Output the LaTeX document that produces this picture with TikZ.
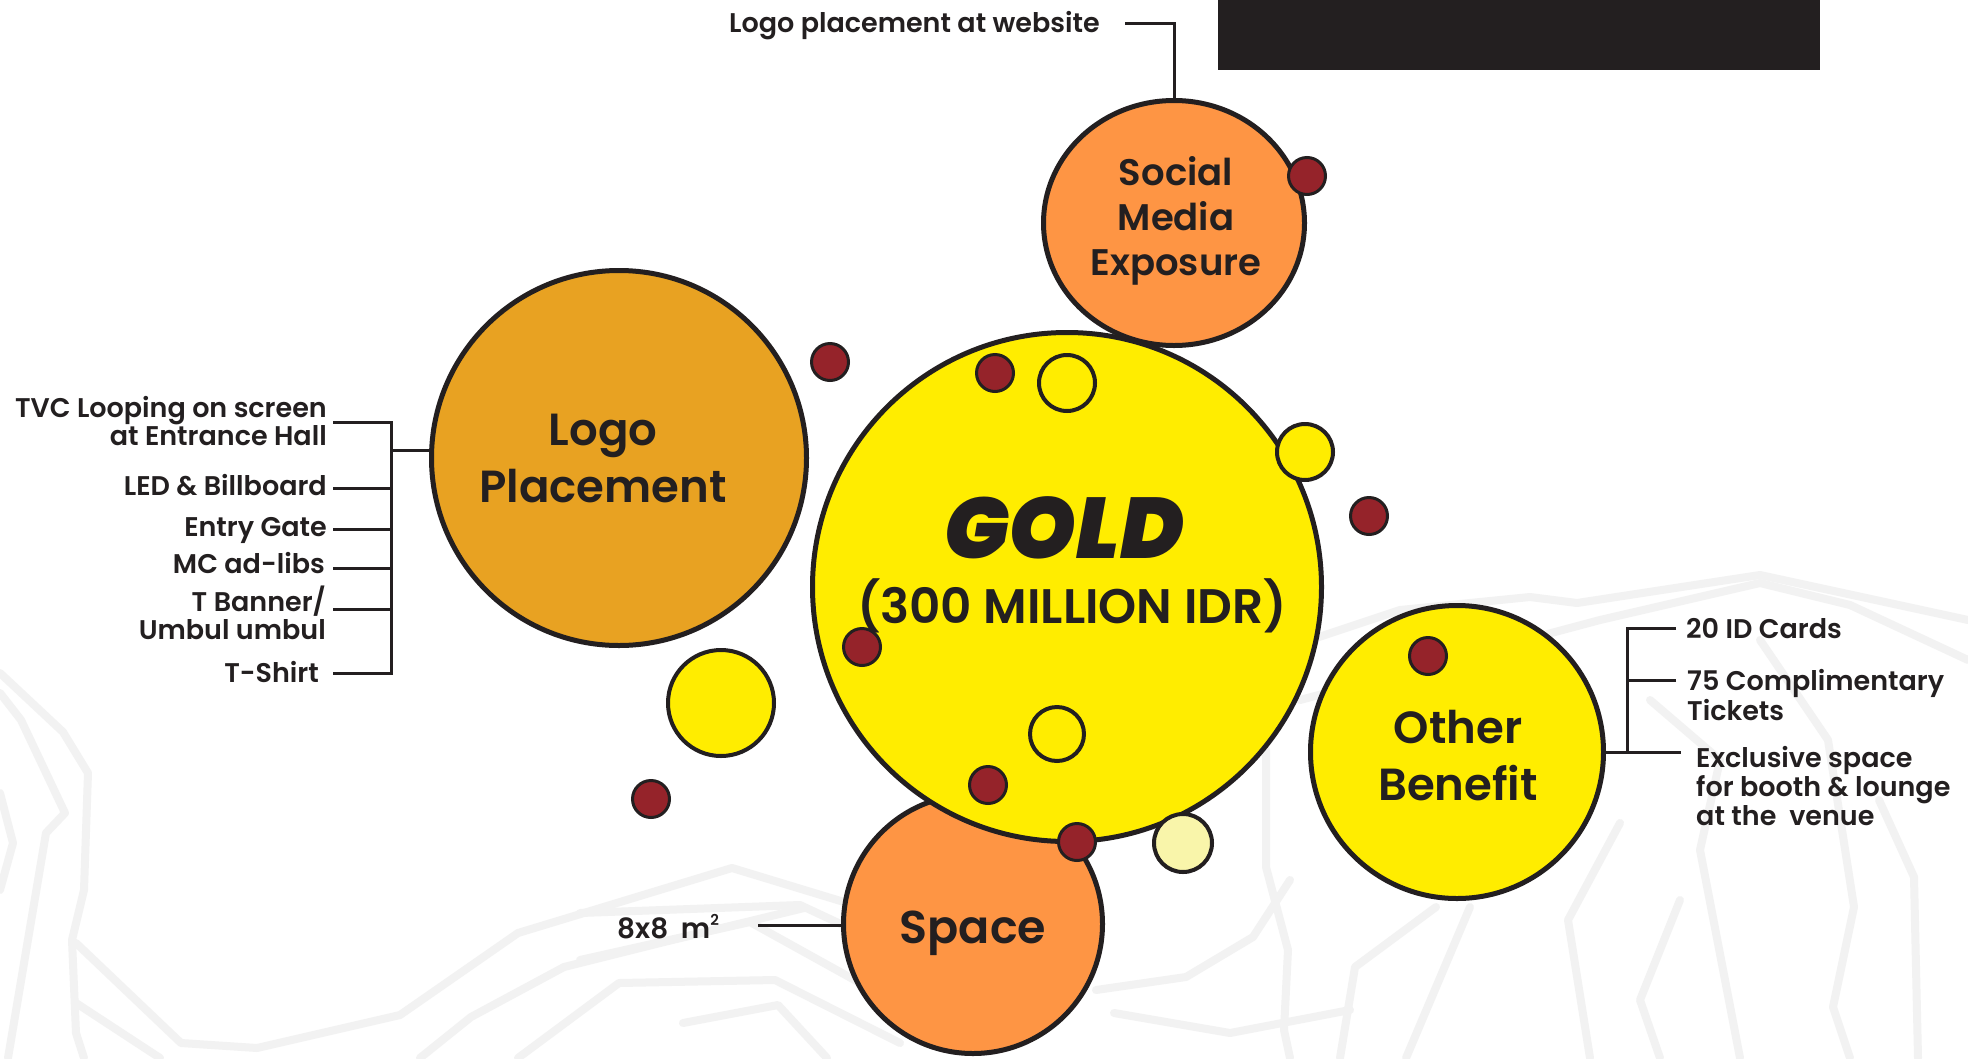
\documentclass[tikz,border=0pt]{standalone}
\usepackage{fontspec}
\setmainfont{Poppins}[UprightFont=* Medium, BoldFont=* SemiBold]
\newfontfamily\goldfont{Poppins}[UprightFont=* Black Italic]
\usetikzlibrary{calc,shapes.geometric}
\definecolor{ink}{HTML}{231F20}
\definecolor{goldy}{HTML}{FFED00}
\definecolor{logoc}{HTML}{E8A222}
\definecolor{orng}{HTML}{FE9544}
\definecolor{redd}{HTML}{95232A}
\definecolor{pale}{HTML}{F9F5AA}
\definecolor{bgl}{HTML}{F2F2F2}
\tikzset{
  bub/.style={circle, draw=ink, line width=5pt, inner sep=0pt},
  rdot/.style={circle, draw=ink, line width=3pt, fill=redd, inner sep=0pt, minimum size=37pt},
  ydot/.style={circle, draw=ink, line width=4pt, fill=goldy, inner sep=0pt},
  conn/.style={draw=ink, line width=3pt},
  lbl/.style={inner sep=0pt, text=ink, font=\fontsize{27}{28}\selectfont\bfseries},
  ctext/.style={inner sep=0pt, text=ink, align=center},
  bgline/.style={draw=bgl, line width=8pt, line join=round, line cap=round}
}
\begin{document}
\begin{tikzpicture}[x=1pt,y=-1pt]
\useasboundingbox (0,0) rectangle (1968,1058);
\fill[white] (0,0) rectangle (1968,1058);
% faint mountain outlines
\draw[bgline] (0,673) -- (63,732) -- (88,773) -- (84,890) -- (72,940) -- (76,1033) -- (84,1058);
\draw[bgline] (0,693) -- (21,720) -- (65,813) -- (46,833) -- (8,1058);
\draw[bgline] (0,793) -- (13,843) -- (0,890);
\draw[bgline] (76,943) -- (181,1043) -- (257,1048) -- (400,1015) -- (518,933) -- (732,868) -- (844,902);
\draw[bgline] (76,1003) -- (160,1058);
\draw[bgline] (420,1058) -- (471,1017) -- (564,967) -- (660,943) -- (804,908);
\draw[bgline] (518,1058) -- (619,983) -- (775,980) -- (900,1043);
\draw[bgline] (683,1023) -- (778,1005) -- (827,1058);
\draw[bgline] (580,913) -- (800,905) -- (847,927);
\draw[bgline] (580,960) -- (750,922) -- (860,983);
\draw[bgline] (1096,990) -- (1186,977) -- (1253,937) -- (1290,880);
\draw[bgline] (1266,750) -- (1266,867) -- (1288,950) -- (1284,1030) -- (1290,1058);
\draw[bgline] (1114,1013) -- (1230,1033) -- (1350,1010);
\draw[bgline] (1250,660) -- (1400,610) -- (1530,597) -- (1577,603) -- (1760,575) -- (1968,620);
\draw[bgline] (1300,700) -- (1450,660) -- (1600,620) -- (1760,583) -- (1850,605) -- (1968,660);
\draw[bgline] (1620,823) -- (1568,920) -- (1590,1058);
\draw[bgline] (1760,640) -- (1828,740) -- (1854,907) -- (1833,1007) -- (1850,1058);
\draw[bgline] (1879,800) -- (1914,877) -- (1918,1058);
\draw[bgline] (1436,907) -- (1355,967) -- (1340,1058);
\draw[bgline] (1470,907) -- (1406,1058);
\draw[bgline] (1680,900) -- (1640,1000) -- (1660,1058);
\draw[bgline] (1650,700) -- (1720,760) -- (1700,850) -- (1740,1058);
% black banner
\fill[ink] (1218,0) rectangle (1820,70);
% main bubbles
\node[bub, fill=orng, minimum size=259pt] (space) at (973,924) {};
\node[bub, fill=logoc, minimum size=375pt] (logo) at (619,458) {};
\node[bub, fill=goldy, minimum size=509pt] (gold) at (1067,587) {};
\node[bub, ellipse, fill=orng, minimum width=261pt, minimum height=245pt] (social) at (1174,223) {};
\node[bub, fill=goldy, minimum size=293pt] (other) at (1457,752) {};
% small bubbles
\node[ydot, minimum size=56pt] (y1) at (1067,383) {};
\node[ydot, minimum size=56pt] (y2) at (1305,452) {};
\node[ydot, minimum size=106pt] (y3) at (721,703) {};
\node[ydot, minimum size=54pt] (y4) at (1057,734) {};
\node[ydot, fill=pale, minimum size=58pt] (y5) at (1183,843) {};
\node[rdot] (r1) at (830,362) {};
\node[rdot] (r2) at (995,373) {};
\node[rdot] (r3) at (1307,176) {};
\node[rdot] (r4) at (1369,516) {};
\node[rdot] (r5) at (862,647) {};
\node[rdot] (r6) at (651,799) {};
\node[rdot] (r7) at (988,785) {};
\node[rdot] (r8) at (1077,842) {};
\node[rdot] (r9) at (1428,656) {};
% bubble texts
\node[ctext, font=\fontsize{37}{45}\selectfont\bfseries] (socialt) at (1176,221) {Social\\Media\\Exposure};
\node[ctext, font=\fontsize{45}{57}\selectfont\bfseries] (logot) at (603,458) {Logo\\Placement};
\node[ctext, font=\goldfont\fontsize{86}{86}\selectfont] (goldt) at (1064,528) {GOLD};
\node[ctext, anchor=base, font=\fontsize{48.5}{48.5}\selectfont\bfseries] (idr) at (1072,623) {(300 MILLION IDR)};
\node[ctext, font=\fontsize{45}{57}\selectfont\bfseries] (othert) at (1458,756) {Other\\Benefit};
\node[ctext, anchor=base, font=\fontsize{46}{46}\selectfont\bfseries] (spacet) at (973,943) {Space};
% labels
\node[lbl, anchor=base east] (web) at (1100,32) {Logo placement at website};
\node[lbl, anchor=east, align=right] (tvc) at (327,421) {TVC Looping on screen\\at Entrance Hall};
\node[lbl, anchor=base east] (led) at (327,495) {LED \& Billboard};
\node[lbl, anchor=base east] (gate) at (327,536) {Entry Gate};
\node[lbl, anchor=base east] (mc) at (325,573) {MC ad-libs};
\node[lbl, anchor=east, align=right] (tban) at (326,613) {T Banner/\\Umbul umbul};
\node[lbl, anchor=base east] (tsh) at (319,682) {T-Shirt};
\node[lbl, anchor=base west] (idc) at (1686,638) {20 ID Cards};
\node[lbl, anchor=west, align=left, font=\fontsize{27}{27}\selectfont\bfseries] (tix) at (1687,695) {75 Complimentary\\Tickets};
\node[lbl, anchor=west, align=left, font=\fontsize{27}{29}\selectfont\bfseries] (excl) at (1696,786) {Exclusive space\\for booth \& lounge\\at the~ venue};
\node[lbl, anchor=base west, font=\fontsize{28}{28}\selectfont\bfseries] (sq) at (617,938) {8x8\hspace{0.45em}m\raisebox{0.45em}{\fontsize{15}{15}\selectfont 2}};
% connectors
\coordinate (webend) at (1125,23);
\draw[conn] (webend) -| (social.north);
\coordinate (ltrunk) at (391,450);
\coordinate (a1) at (333,422);
\coordinate (a2) at (333,488);
\coordinate (a3) at (333,529);
\coordinate (a4) at (333,568);
\coordinate (a5) at (333,609);
\coordinate (a6) at (333,673);
\draw[conn] (a1) -- (a1 -| ltrunk) -- (a6 -| ltrunk) -- (a6);
\draw[conn] (a2) -- (a2 -| ltrunk);
\draw[conn] (a3) -- (a3 -| ltrunk);
\draw[conn] (a4) -- (a4 -| ltrunk);
\draw[conn] (a5) -- (a5 -| ltrunk);
\draw[conn] (ltrunk) -- (ltrunk -| logo.west);
\coordinate (rtrunk) at (1627,752);
\coordinate (b1) at (1676,628);
\coordinate (b2) at (1676,680);
\coordinate (b3) at (1681,752);
\draw[conn] (b1) -- (b1 -| rtrunk) -- (rtrunk);
\draw[conn] (b2) -- (b2 -| rtrunk);
\draw[conn] (other.east) -- (b3);
\coordinate (s1) at (758,925);
\draw[conn] (s1) -- (s1 -| space.west);
\end{tikzpicture}
\end{document}
